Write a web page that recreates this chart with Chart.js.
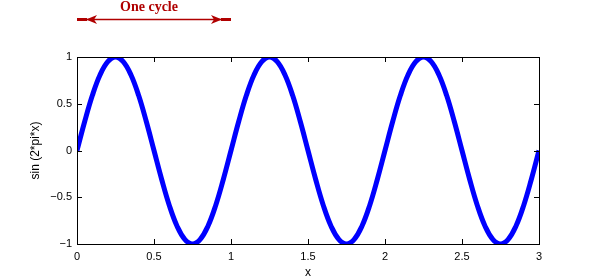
<!DOCTYPE html>
<html>
<head>
<meta charset="utf-8">
<script src="https://cdn.jsdelivr.net/npm/chart.js@4"></script>
<style>
  html, body { margin: 0; padding: 0; background: #fff; }
  #wrap { width: 595px; height: 280px; }
</style>
</head>
<body>
<div id="wrap"><canvas id="sine" width="595" height="280"></canvas></div>
<script>
// values, x every 0.05
const xValues = [
  0, 0.05, 0.1, 0.15, 0.2, 0.25, 0.3, 0.35, 0.4, 0.45,
  0.5, 0.55, 0.6, 0.65, 0.7, 0.75, 0.8, 0.85, 0.9, 0.95,
  1, 1.05, 1.1, 1.15, 1.2, 1.25, 1.3, 1.35, 1.4, 1.45,
  1.5, 1.55, 1.6, 1.65, 1.7, 1.75, 1.8, 1.85, 1.9, 1.95,
  2, 2.05, 2.1, 2.15, 2.2, 2.25, 2.3, 2.35, 2.4, 2.45,
  2.5, 2.55, 2.6, 2.65, 2.7, 2.75, 2.8, 2.85, 2.9, 2.95, 3
];
const sineValues = [
  0, 0.31, 0.59, 0.81, 0.95, 1, 0.95, 0.81, 0.59, 0.31,
  0, -0.31, -0.59, -0.81, -0.95, -1, -0.95, -0.81, -0.59, -0.31,
  0, 0.31, 0.59, 0.81, 0.95, 1, 0.95, 0.81, 0.59, 0.31,
  0, -0.31, -0.59, -0.81, -0.95, -1, -0.95, -0.81, -0.59, -0.31,
  0, 0.31, 0.59, 0.81, 0.95, 1, 0.95, 0.81, 0.59, 0.31,
  0, -0.31, -0.59, -0.81, -0.95, -1, -0.95, -0.81, -0.59, -0.31, 0
];
const xTicks = [0, 0.5, 1, 1.5, 2, 2.5, 3];
const yTicks = [-1, -0.5, 0, 0.5, 1];
const cycleSpan = [0, 1];
const cycleLabel = 'One cycle';

const ANNOT_COLOR = '#b00000';
const TICK_FONT = { family: '"Liberation Sans", Arial, sans-serif', size: 11 };
const TITLE_FONT = { family: '"Liberation Sans", Arial, sans-serif', size: 12 };

function fmt(v) {
  return v < 0 ? '\u2212' + Math.abs(v) : String(v);
}

// matlab-like box with inward ticks on all four sides
const boxPlugin = {
  id: 'box',
  afterDatasetsDraw(chart) {
    const { ctx, chartArea: a, scales } = chart;
    const len = 5;
    ctx.save();
    ctx.strokeStyle = '#000';
    ctx.lineWidth = 1;
    ctx.beginPath();
    xTicks.forEach((t) => {
      const px = Math.round(scales.x.getPixelForValue(t)) + 0.5;
      ctx.moveTo(px, a.bottom); ctx.lineTo(px, a.bottom - len);
      ctx.moveTo(px, a.top); ctx.lineTo(px, a.top + len);
    });
    yTicks.forEach((t) => {
      const py = Math.round(scales.y.getPixelForValue(t)) + 0.5;
      ctx.moveTo(a.left, py); ctx.lineTo(a.left + len, py);
      ctx.moveTo(a.right, py); ctx.lineTo(a.right - len, py);
    });
    ctx.stroke();
    ctx.strokeRect(Math.round(a.left) + 0.5, Math.round(a.top) + 0.5,
      Math.round(a.right - a.left), Math.round(a.bottom - a.top));
    ctx.restore();
  }
};

function arrowHead(ctx, tipX, y, dir) {
  const l = 11, w = 4.5;
  ctx.beginPath();
  ctx.moveTo(tipX, y);
  ctx.lineTo(tipX + dir * l, y - w);
  ctx.lineTo(tipX + dir * (l - 3), y);
  ctx.lineTo(tipX + dir * l, y + w);
  ctx.closePath();
  ctx.fill();
}

const cyclePlugin = {
  id: 'cycle',
  afterDraw(chart) {
    const { ctx, chartArea: a, scales } = chart;
    const x0 = scales.x.getPixelForValue(cycleSpan[0]);
    const x1 = scales.x.getPixelForValue(cycleSpan[1]);
    const y = a.top - 37.5;
    ctx.save();
    ctx.strokeStyle = ANNOT_COLOR;
    ctx.fillStyle = ANNOT_COLOR;
    ctx.lineWidth = 1.5;
    ctx.beginPath();
    ctx.moveTo(x0, y);
    ctx.lineTo(x1, y);
    ctx.stroke();
    ctx.lineWidth = 3;
    ctx.beginPath();
    ctx.moveTo(x0, y); ctx.lineTo(x0 + 10, y);
    ctx.moveTo(x1, y); ctx.lineTo(x1 - 10, y);
    ctx.stroke();
    arrowHead(ctx, x0 + 9, y, 1);
    arrowHead(ctx, x1 - 9, y, -1);
    ctx.font = 'bold 14px "Liberation Serif", "Times New Roman", serif';
    ctx.textAlign = 'center';
    ctx.textBaseline = 'middle';
    ctx.fillText(cycleLabel, (x0 + x1) / 2 - 5, a.top - 50);
    ctx.restore();
  }
};

new Chart(document.getElementById('sine'), {
  type: 'scatter',
  data: {
    datasets: [{
      data: xValues.map((x, i) => ({ x: x, y: sineValues[i] })),
      showLine: true,
      borderColor: '#0000ff',
      borderWidth: 5,
      pointRadius: 0,
      tension: 0.4,
      clip: 0
    }]
  },
  options: {
    responsive: false,
    animation: false,
    layout: { padding: { left: 28, right: 56, top: 57, bottom: 0 } },
    plugins: { legend: { display: false }, tooltip: { enabled: false } },
    scales: {
      x: {
        type: 'linear',
        min: 0,
        max: 3,
        afterFit: (s) => { s.height = 36; },
        afterBuildTicks: (s) => { s.ticks = xTicks.map((v) => ({ value: v })); },
        grid: { display: false, drawTicks: false },
        border: { display: true, color: '#000' },
        ticks: { color: '#000', font: TICK_FONT, padding: 6, maxRotation: 0, callback: fmt },
        title: { display: true, text: 'x', color: '#000', font: TITLE_FONT, padding: 0 }
      },
      y: {
        type: 'linear',
        min: -1,
        max: 1,
        afterFit: (s) => { s.width = 49; },
        afterBuildTicks: (s) => { s.ticks = yTicks.map((v) => ({ value: v })); },
        grid: { display: false, drawTicks: false },
        border: { display: true, color: '#000' },
        ticks: { color: '#000', font: TICK_FONT, padding: 5, callback: fmt },
        title: { display: true, text: 'sin (2*pi*x)', color: '#000', font: TITLE_FONT, padding: 0 }
      }
    }
  },
  plugins: [boxPlugin, cyclePlugin]
});
</script>
</body>
</html>
